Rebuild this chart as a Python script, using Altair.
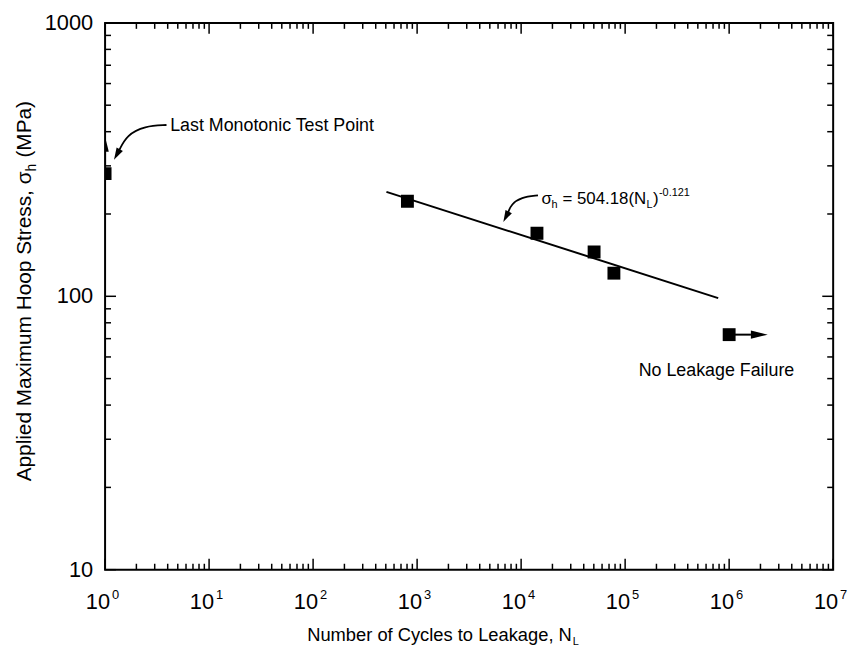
import altair as alt
import pandas as pd

# ---- data ----
cycles = [1, 807, 14200, 50300, 78000, 1000000]
stress = [281, 222.6, 170.1, 145.2, 121.5, 72.4]

fit_cycles = [507, 785000]
fit_stress = [241, 98.5]

# arrows: monotonic point (upward) and run-out (rightward)
up_shaft_x = [1, 1]
up_shaft_y = [281, 338]
up_tip = (1, 383)
right_shaft_x = [1000000, 1620000]
right_shaft_y = [72.4, 72.4]
right_tip = (2350000, 72.4)

x_major = [1, 10, 100, 1e3, 1e4, 1e5, 1e6, 1e7]
x_exp = ["0", "1", "2", "3", "4", "5", "6", "7"]
x_minor = [m * 10 ** k for k in range(7) for m in range(2, 10)]
y_major = [10, 100, 1000]
y_labels = ["10", "100", "1000"]
y_minor = [m * 10 ** k for k in (1, 2) for m in range(2, 10)]

# annotation curves (data coordinates)
curve1_x = [3.895, 2.404, 1.62, 1.359]
curve1_y = [423.2, 419.7, 389.4, 340.8]
curve1_tip = (1.218, 316)
curve2_x = [14519, 10000, 8032, 7518]
curve2_y = [233.9, 230.1, 217, 203]
curve2_tip = (6741, 186.8)

label_monotonic = (4.225, 419.7, "Last Monotonic Test Point")
label_runout = (135000, 53.1, "No Leakage Failure")
eq_anchor = (15740, 218.3)

W, H = 735, 552
FONT = "Liberation Sans"

xs = alt.Scale(type="log", domain=[1, 1e7], nice=False)
ys = alt.Scale(type="log", domain=[10, 1000], nice=False)


def X(f="x"):
    return alt.X(f"{f}:Q", scale=xs, axis=None)


def Y(f="y"):
    return alt.Y(f"{f}:Q", scale=ys, axis=None)


layers = []

# ---- inward ticks on all four sides ----
for vals, ln in ((x_major, 11), (x_minor, 6)):
    d = pd.DataFrame({"x": vals})
    layers.append(alt.Chart(d).mark_rule(color="black", strokeWidth=1.5).encode(
        x=X(), y=alt.value(H), y2=alt.value(H - ln)))
    layers.append(alt.Chart(d).mark_rule(color="black", strokeWidth=1.5).encode(
        x=X(), y=alt.value(0), y2=alt.value(ln)))
for vals, ln in ((y_major, 11), (y_minor, 6)):
    d = pd.DataFrame({"y": vals})
    layers.append(alt.Chart(d).mark_rule(color="black", strokeWidth=1.5).encode(
        y=Y(), x=alt.value(0), x2=alt.value(ln)))
    layers.append(alt.Chart(d).mark_rule(color="black", strokeWidth=1.5).encode(
        y=Y(), x=alt.value(W), x2=alt.value(W - ln)))

# ---- tick labels ----
xl = pd.DataFrame({"x": x_major, "e": x_exp})
layers.append(alt.Chart(xl).mark_text(align="right", baseline="alphabetic", dx=5,
                                      fontSize=22, font=FONT, color="black").encode(
    x=X(), y=alt.value(592), text=alt.value("10")))
layers.append(alt.Chart(xl).mark_text(align="left", baseline="alphabetic", dx=7,
                                      fontSize=13, font=FONT, color="black").encode(
    x=X(), y=alt.value(581.5), text="e:N"))
yl = pd.DataFrame({"y": y_major, "t": y_labels})
layers.append(alt.Chart(yl).mark_text(align="right", baseline="middle",
                                      fontSize=22, font=FONT, color="black").encode(
    y=Y(), x=alt.value(-12), text="t:N"))

# ---- axis titles (with subscripts) ----
one = pd.DataFrame({"k": [0]})
layers.append(alt.Chart(one).mark_text(align="left", baseline="alphabetic", fontSize=18.5,
                                       font=FONT, color="black").encode(
    x=alt.value(204), y=alt.value(624), text=alt.value("Number of Cycles to Leakage, N")))
layers.append(alt.Chart(one).mark_text(align="left", baseline="alphabetic", fontSize=11,
                                       font=FONT, color="black").encode(
    x=alt.value(472), y=alt.value(628), text=alt.value("L")))
layers.append(alt.Chart(one).mark_text(align="right", baseline="alphabetic", angle=270,
                                       fontSize=21, font=FONT, color="black").encode(
    x=alt.value(-75), y=alt.value(150), text=alt.value("Applied Maximum Hoop Stress, σ")))
layers.append(alt.Chart(one).mark_text(align="left", baseline="alphabetic", angle=270,
                                       fontSize=14, font=FONT, color="black").encode(
    x=alt.value(-70), y=alt.value(150), text=alt.value("h")))
layers.append(alt.Chart(one).mark_text(align="left", baseline="alphabetic", angle=270,
                                       fontSize=21, font=FONT, color="black").encode(
    x=alt.value(-75), y=alt.value(136), text=alt.value("(MPa)")))

# ---- fit line ----
fit = pd.DataFrame({"x": fit_cycles, "y": fit_stress})
layers.append(alt.Chart(fit).mark_line(color="black", strokeWidth=2).encode(x=X(), y=Y()))

# ---- arrows for monotonic / run-out points ----
up = pd.DataFrame({"x": up_shaft_x, "y": up_shaft_y})
layers.append(alt.Chart(up).mark_line(color="black", strokeWidth=2, clip=True).encode(x=X(), y=Y()))
rt = pd.DataFrame({"x": right_shaft_x, "y": right_shaft_y})
layers.append(alt.Chart(rt).mark_line(color="black", strokeWidth=2).encode(x=X(), y=Y()))
layers.append(alt.Chart(pd.DataFrame({"x": [up_tip[0]], "y": [up_tip[1]]})).mark_point(
    shape="M0,0L0.5,2L-0.5,2Z", size=225, filled=True, color="black", opacity=1,
    strokeWidth=0, clip=True).encode(x=X(), y=Y()))
layers.append(alt.Chart(pd.DataFrame({"x": [right_tip[0]], "y": [right_tip[1]]})).mark_point(
    shape="M0,0L-2,-0.5L-2,0.5Z", size=289, filled=True, color="black", opacity=1,
    strokeWidth=0).encode(x=X(), y=Y()))

# ---- data points ----
pts = pd.DataFrame({"x": cycles, "y": stress})
layers.append(alt.Chart(pts).mark_square(size=169, color="black", opacity=1, clip=True).encode(
    x=X(), y=Y()))

# ---- curved annotation arrows ----
for cx, cy, tip, ang in ((curve1_x, curve1_y, curve1_tip, 209),
                         (curve2_x, curve2_y, curve2_tip, 207)):
    c = pd.DataFrame({"x": cx, "y": cy, "o": list(range(len(cx)))})
    layers.append(alt.Chart(c).mark_line(color="black", strokeWidth=1.8, interpolate="basis").encode(
        x=X(), y=Y(), order="o:Q"))
    layers.append(alt.Chart(pd.DataFrame({"x": [tip[0]], "y": [tip[1]]})).mark_point(
        shape="M0,0L0.6,2L-0.6,2Z", size=144, filled=True, color="black", opacity=1,
        strokeWidth=0, angle=ang).encode(x=X(), y=Y()))

# ---- annotation texts ----
for lx, ly, txt in (label_monotonic, label_runout):
    layers.append(alt.Chart(pd.DataFrame({"x": [lx], "y": [ly]})).mark_text(
        align="left", baseline="middle", fontSize=18, font=FONT, color="black").encode(
        x=X(), y=Y(), text=alt.value(txt)))

eq = pd.DataFrame({"x": [eq_anchor[0]], "y": [eq_anchor[1]]})
eq_parts = [("σ", 0, 0, 17), ("h", 10, 4.5, 11), ("= 504.18(N", 21, 0, 17),
            ("L", 106, 4.5, 11), (")", 112.5, 0, 17), ("-0.121", 118.5, -8, 11)]
for txt, dx, dy, fs in eq_parts:
    layers.append(alt.Chart(eq).mark_text(align="left", baseline="alphabetic", dx=dx, dy=dy,
                                          fontSize=fs, font=FONT, color="black").encode(
        x=X(), y=Y(), text=alt.value(txt)))

chart = alt.layer(*layers).properties(
    width=W, height=H,
    autosize=alt.AutoSizeParams(type="none"),
    padding={"left": 98, "top": 12, "right": 17, "bottom": 75},
    background="white",
).configure_view(stroke="black", strokeWidth=2)

chart.save("out.html", embed_options={"renderer": "svg", "actions": False})
